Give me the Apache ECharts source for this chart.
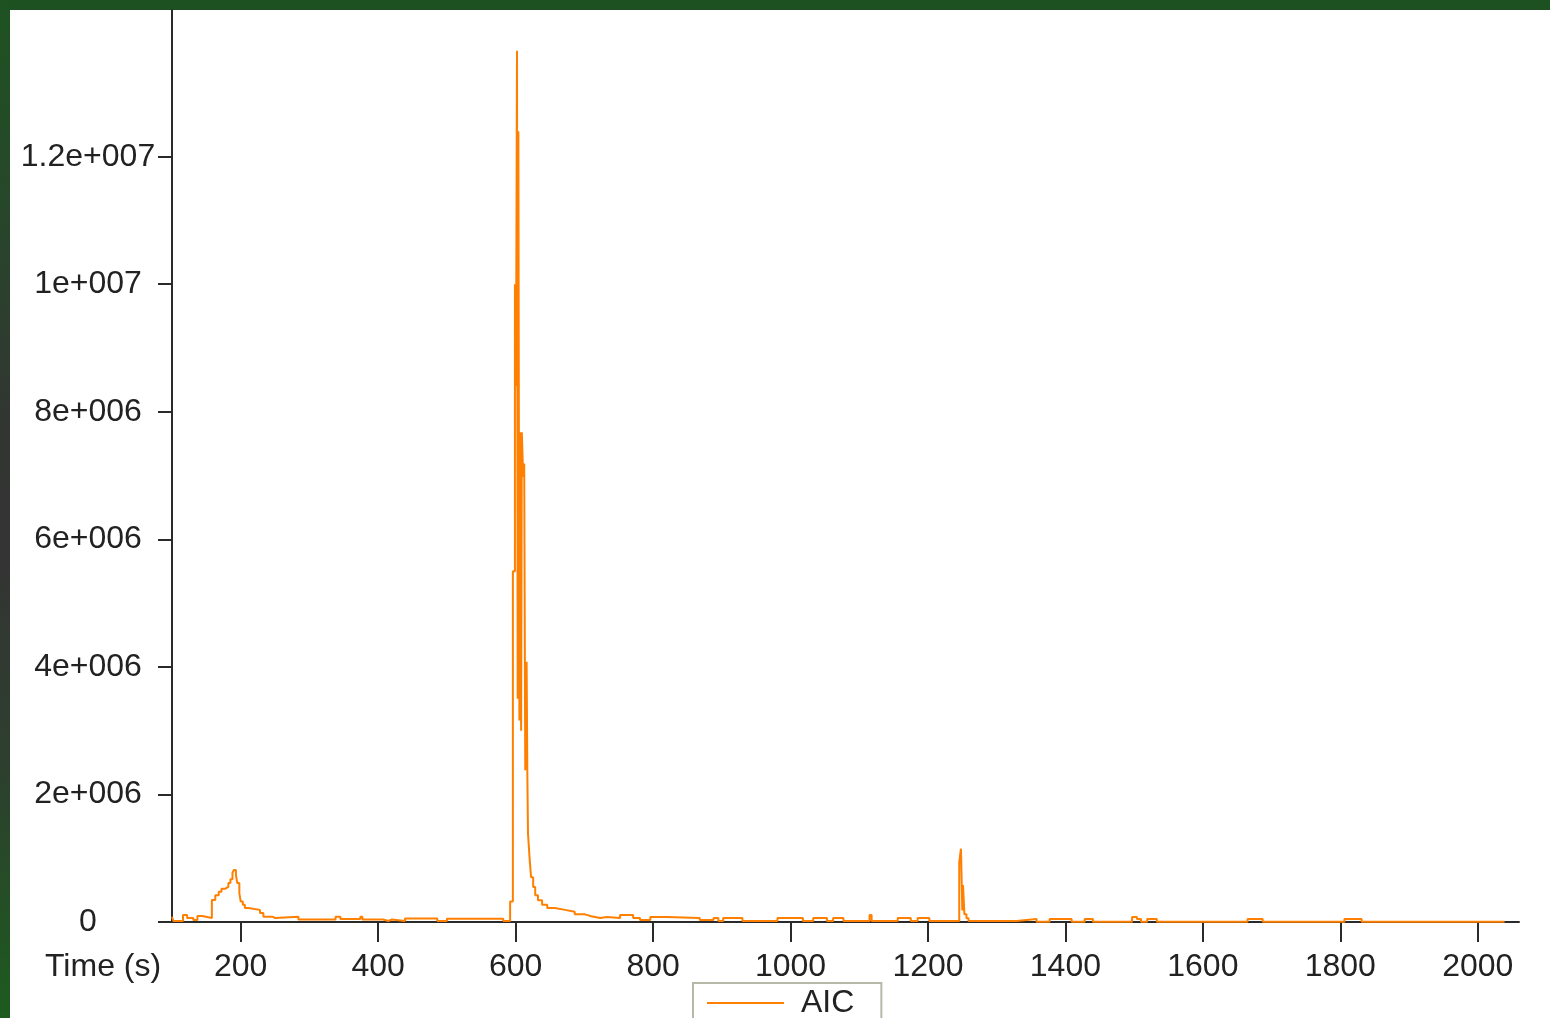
<!DOCTYPE html>
<html>
<head>
<meta charset="utf-8">
<script src="https://cdn.jsdelivr.net/npm/echarts@6/dist/echarts.min.js"></script>
<style>
  html, body { margin: 0; padding: 0; background: #ffffff; }
  #top { position: absolute; left: 0; top: 0; width: 1550px; height: 10px; background: #1e5121; }
  #leftbar { position: absolute; left: 0; top: 0; width: 10px; height: 1018px;
    background: linear-gradient(to bottom, #1e5221 0%, #27472a 20%, #323532 42%, #343434 55%, #2d3f2e 75%, #1d5b1f 100%); }
  #chart { position: absolute; left: 0; top: 0; width: 1550px; height: 1018px; }
</style>
</head>
<body>
<div id="top"></div>
<div id="leftbar"></div>
<div id="chart"></div>
<script>
// ---- Data ----
const seriesName = 'AIC';
const xAxisTitle = 'Time (s)';
const xTickValues = [200, 400, 600, 800, 1000, 1200, 1400, 1600, 1800, 2000];
const yTickValues = [0, 2e6, 4e6, 6e6, 8e6, 10e6, 12e6];
const yTickLabels = ['0', '2e+006', '4e+006', '6e+006', '8e+006', '1e+007', '1.2e+007'];

const times = [
  100, 102, 116, 122, 131, 137, 144, 158, 163, 168, 172, 177, 182, 185, 188, 190, 193, 195, 198, 200,
  203, 206, 211, 228, 233, 246, 250, 284, 295, 297, 305, 307, 320, 322, 338, 345, 374, 377, 407, 415,
  420, 439, 486, 500, 582, 592, 596, 599, 600.5, 602, 603, 604, 605.5, 606.5, 608, 609, 611, 612.5,
  614, 616, 617, 618, 620.5, 622.5, 625.5, 628.5, 632.5, 638.5, 646, 657, 672, 686, 701, 710, 723,
  733, 752, 771, 781, 796, 820, 868, 888, 895, 902, 930, 981, 1018, 1033, 1053, 1062, 1077, 1115,
  1118, 1156, 1175, 1185, 1202, 1245.5, 1248, 1250, 1251, 1253, 1256, 1259, 1329, 1358, 1377, 1409,
  1428, 1440, 1497, 1504, 1510, 1519, 1533, 1665, 1687, 1806, 1831, 2039
];
const aic = [
  83000, 16000, 110000, 63000, 31000, 94000, 63000, 345000, 420000, 475000, 520000, 550000, 610000, 670000, 770000, 815000, 740000, 610000, 450000, 320000,
  270000, 220000, 190000, 140000, 83000, 63000, 83000, 40000, 16000, 40000, 16000, 40000, 16000, 40000, 83000, 47000, 83000, 40000, 16000, 40000,
  16000, 55000, 16000, 50000, 16000, 320000, 5500000, 10000000, 8400000, 13660000, 3500000, 12400000, 3160000, 7680000, 3000000, 7680000, 6980000, 7190000,
  2380000, 4080000, 2380000, 1390000, 970000, 700000, 550000, 420000, 340000, 270000, 220000, 190000, 160000, 120000, 90000, 63000, 80000,
  63000, 110000, 63000, 31000, 80000, 63000, 31000, 63000, 16000, 63000, 16000, 63000, 16000, 63000, 16000, 63000, 16000, 110000,
  16000, 63000, 16000, 63000, 16000, 940000, 1150000, 180000, 580000, 120000, 60000, 16000, 47000, 5000, 47000, 5000,
  47000, 5000, 80000, 47000, 5000, 47000, 5000, 47000, 5000, 47000, 5000, 5000
];

// ---- Chart ----
const FONT = '"Liberation Sans", Arial, sans-serif';
const TEXT = '#222222';
const chart = echarts.init(document.getElementById('chart'), null, { renderer: 'canvas' });
chart.setOption({
  animation: false,
  backgroundColor: 'transparent',
  grid: { left: 172, top: 10, right: 31, bottom: 96, containLabel: false },
  xAxis: {
    type: 'value',
    min: 100,
    max: 2060,
    splitLine: { show: false },
    axisLine: { show: true, lineStyle: { color: '#2a2a2a', width: 2 } },
    axisTick: { show: true, length: 20, customValues: xTickValues, lineStyle: { color: '#2a2a2a', width: 2 } },
    axisLabel: { customValues: xTickValues, margin: 29, fontSize: 32, fontFamily: FONT, color: TEXT,
      formatter: v => String(v) }
  },
  yAxis: {
    type: 'value',
    min: 0,
    max: 14300000,
    splitLine: { show: false },
    axisLine: { show: true, lineStyle: { color: '#2a2a2a', width: 2 } },
    axisTick: { show: true, length: 14, customValues: yTickValues, lineStyle: { color: '#2a2a2a', width: 2 } },
    axisLabel: { customValues: yTickValues, margin: 84, align: 'center', fontSize: 32, fontFamily: FONT, color: TEXT,
      formatter: v => { const i = yTickValues.indexOf(v); return i >= 0 ? yTickLabels[i] : ''; } }
  },
  legend: {
    left: 693,
    top: 983,
    selectedMode: false,
    icon: 'path://M0,0H77V2H0Z',
    itemWidth: 77,
    itemHeight: 2,
    borderColor: '#b8b8a8',
    borderWidth: 2,
    padding: [4, 27, 30, 14],
    textStyle: { fontSize: 32, fontFamily: FONT, color: TEXT, padding: [0, 0, 0, 12] },
    data: [seriesName]
  },
  graphic: [{
    type: 'text',
    left: 45,
    top: 951,
    style: { text: xAxisTitle, font: '32px ' + FONT, fill: TEXT }
  }],
  series: [{
    name: seriesName,
    type: 'line',
    step: 'end',
    showSymbol: false,
    symbol: 'none',
    sampling: null,
    color: '#ff8000',
    lineStyle: { color: '#ff8000', width: 2 },
    data: times.map((t, i) => [t, aic[i]])
  }]
});
</script>
</body>
</html>
